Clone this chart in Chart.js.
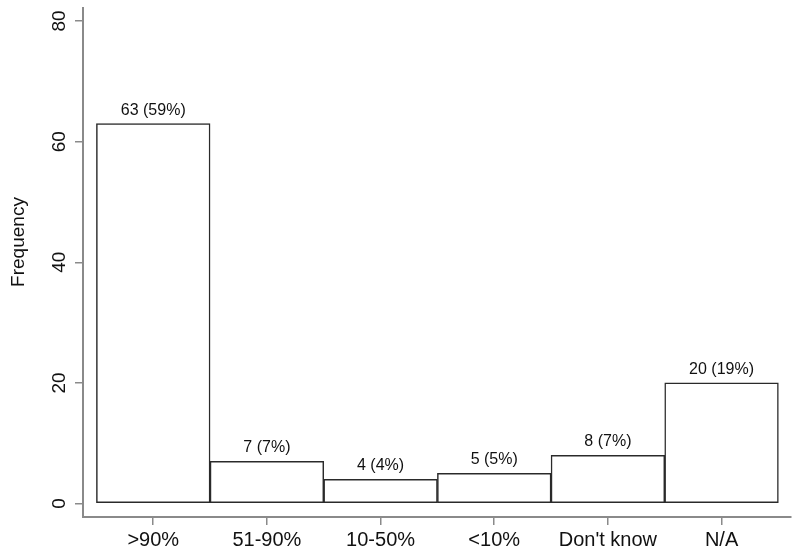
<!DOCTYPE html>
<html>
<head>
<meta charset="utf-8">
<script src="https://cdn.jsdelivr.net/npm/chart.js@4/dist/chart.umd.min.js"></script>
<style>
  html, body { margin: 0; padding: 0; background: #fff; }
  #wrap { width: 800px; height: 556px; }
</style>
</head>
<body>
<div id="wrap"><canvas id="chart"></canvas></div>
<script>
// datos
const categories = ['>90%', '51-90%', '10-50%', '<10%', "Don't know", 'N/A'];
const frequency = [63, 7, 4, 5, 8, 20];
const percent = [59, 7, 4, 5, 7, 19];
const yTicks = [0, 20, 40, 60, 80];

const FONT = '"Liberation Sans", Arial, sans-serif';
const axisColor = '#8a8a8a';

// etiquetas encima de cada barra, eje y rotado y título
const barLabels = {
    id: 'barLabels',
    afterDatasetsDraw(chart) {
        const ctx = chart.ctx;
        const meta = chart.getDatasetMeta(0);
        ctx.save();
        ctx.fillStyle = '#111';
        ctx.font = '16px ' + FONT;
        ctx.textAlign = 'center';
        ctx.textBaseline = 'alphabetic';
        meta.data.forEach((bar, i) => {
            ctx.fillText(frequency[i] + ' (' + percent[i] + '%)', bar.x, bar.y - 9);
        });
        ctx.restore();
    },
    afterDraw(chart) {
        const ctx = chart.ctx;
        const y = chart.scales.y;
        ctx.save();
        ctx.fillStyle = '#111';
        ctx.font = '19px ' + FONT;
        ctx.textAlign = 'center';
        ctx.textBaseline = 'middle';
        yTicks.forEach(v => {
            ctx.save();
            ctx.translate(59, y.getPixelForValue(v));
            ctx.rotate(-Math.PI / 2);
            ctx.fillText(String(v), 0, 1);
            ctx.restore();
        });
        ctx.translate(19, 242);
        ctx.rotate(-Math.PI / 2);
        ctx.fillText('Frequency', 0, 0);
        ctx.restore();
    }
};

new Chart(document.getElementById('chart'), {
    type: 'bar',
    data: {
        datasets: [{
            data: frequency.map((v, i) => ({ x: i + 1, y: v })),
            backgroundColor: '#ffffff',
            borderColor: '#2a2a2a',
            borderWidth: 1.5,
            borderSkipped: false,
            barPercentage: 1,
            categoryPercentage: 1
        }]
    },
    options: {
        responsive: true,
        maintainAspectRatio: false,
        animation: false,
        layout: { padding: { top: 8, right: 9, left: 0, bottom: 0 } },
        plugins: {
            legend: { display: false },
            tooltip: { enabled: false }
        },
        scales: {
            x: {
                type: 'linear',
                offset: false,
                min: 0.382,
                max: 6.611,
                afterBuildTicks: (scale) => {
                    scale.ticks = categories.map((c, i) => ({ value: i + 1 }));
                },
                afterFit: (scale) => { scale.height = 39; },
                border: { display: true, color: axisColor, width: 2 },
                grid: { display: true, offset: false, drawOnChartArea: false, drawTicks: true, tickLength: 8, color: axisColor, lineWidth: 1.5 },
                ticks: {
                    autoSkip: false,
                    maxRotation: 0,
                    padding: 3,
                    color: '#111',
                    font: { size: 20, family: FONT },
                    callback: (v) => categories[Math.round(v) - 1] || ''
                }
            },
            y: {
                min: -2.238,
                max: 82.156,
                afterBuildTicks: (scale) => {
                    scale.ticks = yTicks.map(v => ({ value: v }));
                },
                afterFit: (scale) => { scale.width = 83; },
                border: { display: true, color: axisColor, width: 2 },
                grid: { display: true, drawOnChartArea: false, drawTicks: true, tickLength: 8, color: axisColor, lineWidth: 1.5 },
                ticks: { display: false }
            }
        }
    },
    plugins: [barLabels]
});
</script>
</body>
</html>
